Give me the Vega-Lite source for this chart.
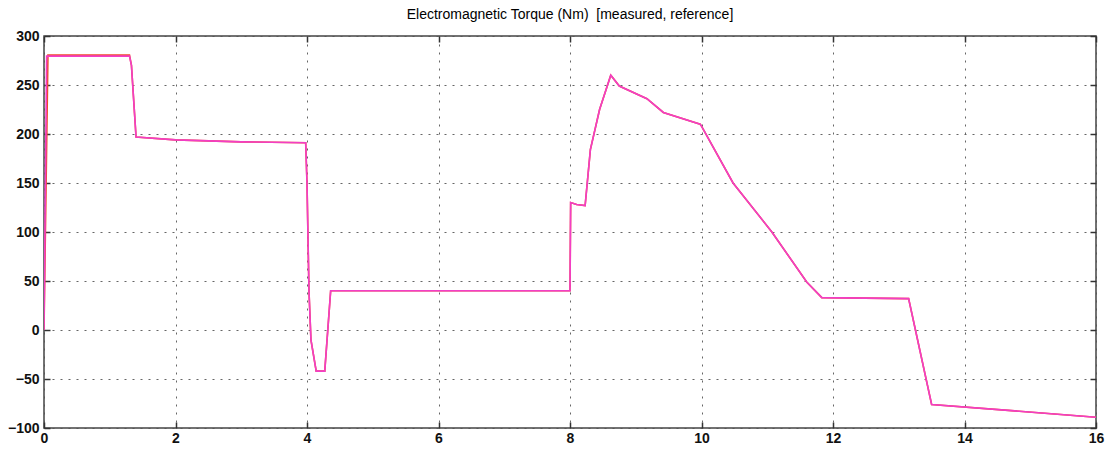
{
  "$schema": "https://vega.github.io/schema/vega-lite/v6.json",
  "width": 1052,
  "height": 392,
  "autosize": {"type": "none"},
  "padding": {"left": 44, "top": 36, "right": 23, "bottom": 25},
  "background": "white",
  "title": {
    "text": "Electromagnetic Torque (Nm)\u00a0 [measured, reference]",
    "font": "Liberation Sans",
    "fontSize": 14,
    "fontWeight": "normal",
    "color": "#000000",
    "anchor": "middle",
    "offset": 7
  },
  "config": {
    "view": {"stroke": "#444444", "strokeWidth": 1.5},
    "axis": {
      "domain": false,
      "tickSize": -6,
      "tickColor": "#333333",
      "tickWidth": 1.5,
      "labelFont": "Liberation Sans",
      "labelFontSize": 14,
      "labelFontWeight": "bold",
      "labelColor": "#111111",
      "labelFlush": false,
      "labelOverlap": false,
      "labelBound": false,
      "title": null,
      "gridColor": "#555555",
      "gridDash": [2, 6],
      "gridWidth": 1,
      "gridOpacity": 0.9
    }
  },
  "datasets": {
    "reference": [
      {"t": 0, "v": 0}, {"t": 0.06, "v": 280.5}, {"t": 1.30, "v": 280.5}, {"t": 1.33, "v": 270},
      {"t": 1.40, "v": 197}, {"t": 2.0, "v": 194}, {"t": 3.0, "v": 192}, {"t": 3.98, "v": 191},
      {"t": 4.0, "v": 150}, {"t": 4.03, "v": 40}, {"t": 4.06, "v": -10}, {"t": 4.14, "v": -42},
      {"t": 4.27, "v": -42}, {"t": 4.36, "v": 40}, {"t": 8.0, "v": 40}, {"t": 8.01, "v": 130},
      {"t": 8.1, "v": 128}, {"t": 8.23, "v": 127}, {"t": 8.31, "v": 184}, {"t": 8.45, "v": 225},
      {"t": 8.62, "v": 260}, {"t": 8.75, "v": 249}, {"t": 9.17, "v": 236}, {"t": 9.42, "v": 222},
      {"t": 9.98, "v": 210}, {"t": 10.0, "v": 208}, {"t": 10.48, "v": 150}, {"t": 11.07, "v": 100},
      {"t": 11.6, "v": 49}, {"t": 11.83, "v": 33}, {"t": 13.15, "v": 32}, {"t": 13.5, "v": -76},
      {"t": 16, "v": -89}
    ],
    "measured": [
      {"t": 0, "v": 0}, {"t": 0.04, "v": 279.5}, {"t": 1.30, "v": 279.5}, {"t": 1.33, "v": 270},
      {"t": 1.40, "v": 197}, {"t": 2.0, "v": 194}, {"t": 3.0, "v": 192}, {"t": 3.98, "v": 191},
      {"t": 4.0, "v": 150}, {"t": 4.03, "v": 40}, {"t": 4.06, "v": -10}, {"t": 4.14, "v": -42},
      {"t": 4.27, "v": -42}, {"t": 4.36, "v": 40}, {"t": 8.0, "v": 40}, {"t": 8.01, "v": 130},
      {"t": 8.1, "v": 128}, {"t": 8.23, "v": 127}, {"t": 8.31, "v": 184}, {"t": 8.45, "v": 225},
      {"t": 8.62, "v": 260}, {"t": 8.75, "v": 249}, {"t": 9.17, "v": 236}, {"t": 9.42, "v": 222},
      {"t": 9.98, "v": 210}, {"t": 10.0, "v": 208}, {"t": 10.48, "v": 150}, {"t": 11.07, "v": 100},
      {"t": 11.6, "v": 49}, {"t": 11.83, "v": 33}, {"t": 13.15, "v": 32}, {"t": 13.5, "v": -76},
      {"t": 16, "v": -89}
    ]
  },
  "layer": [
    {
      "data": {"name": "reference"},
      "mark": {"type": "line", "color": "#f04a2a", "strokeWidth": 1.6, "clip": true},
      "encoding": {
        "x": {
          "field": "t", "type": "quantitative",
          "scale": {"domain": [0, 16], "nice": false, "zero": false},
          "axis": {"orient": "bottom", "values": [0, 2, 4, 6, 8, 10, 12, 14, 16], "grid": true, "labelPadding": 9}
        },
        "y": {
          "field": "v", "type": "quantitative",
          "scale": {"domain": [-100, 300], "nice": false, "zero": false},
          "axis": {"orient": "left", "values": [-100, -50, 0, 50, 100, 150, 200, 250, 300], "grid": true, "labelPadding": 11}
        }
      }
    },
    {
      "data": {"name": "measured"},
      "mark": {"type": "line", "color": "#f23ec6", "strokeWidth": 1.6, "clip": true},
      "encoding": {
        "x": {
          "field": "t", "type": "quantitative",
          "axis": {"orient": "top", "values": [0, 2, 4, 6, 8, 10, 12, 14, 16], "grid": false, "labels": false}
        },
        "y": {
          "field": "v", "type": "quantitative",
          "axis": {"orient": "right", "values": [-100, -50, 0, 50, 100, 150, 200, 250, 300], "grid": false, "labels": false}
        }
      }
    }
  ],
  "resolve": {"axis": {"x": "independent", "y": "independent"}}
}
